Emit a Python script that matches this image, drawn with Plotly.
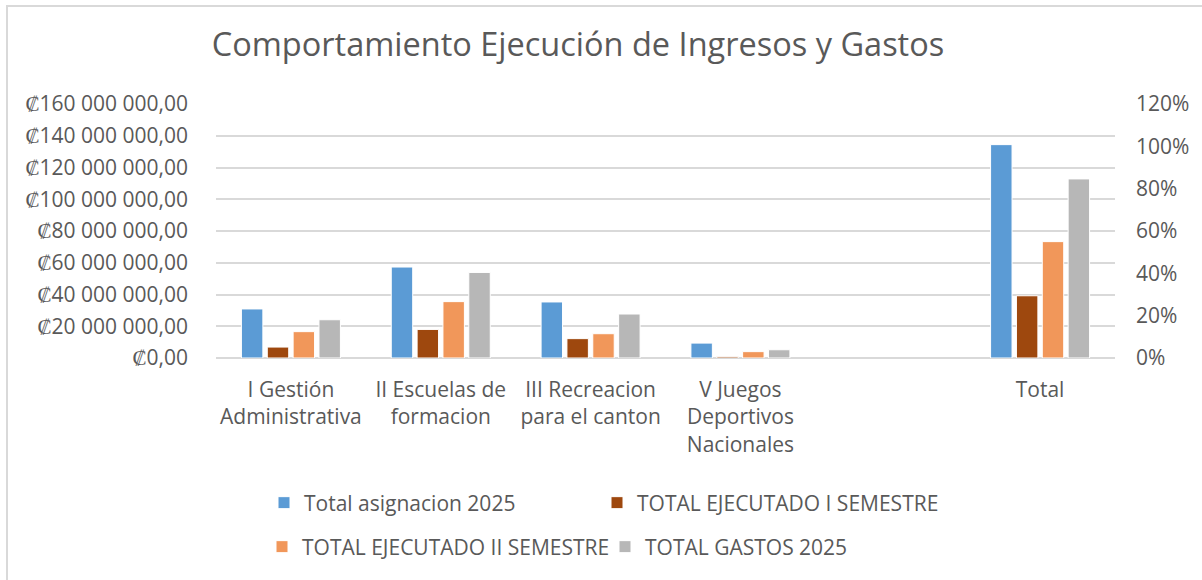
import plotly.graph_objects as go

categories = ["I Gestión<br>Administrativa", "II Escuelas de<br>formacion",
              "III Recreacion<br>para el canton", "V Juegos<br>Deportivos<br>Nacionales",
              " ", "Total"]
asignacion_2025 = [30.9e6, 57.3e6, 35.3e6, 9.4e6, None, 134.4e6]
ejecutado_i_sem = [6.9e6, 18.0e6, 12.2e6, 0.8e6, None, 39.2e6]
ejecutado_ii_sem = [16.6e6, 35.5e6, 15.3e6, 4.0e6, None, 73.3e6]
gastos_2025 = [24.1e6, 53.9e6, 27.7e6, 5.2e6, None, 112.8e6]

series_names = ["Total asignacion 2025", "TOTAL EJECUTADO I SEMESTRE",
                "TOTAL EJECUTADO II SEMESTRE", "TOTAL GASTOS 2025"]
colors = ["#5B9BD5", "#9E480E", "#F1975A", "#B7B7B7"]

y_tickvals = [0, 20e6, 40e6, 60e6, 80e6, 100e6, 120e6, 140e6, 160e6]
y_ticktext = ["₡0,00", "₡20 000 000,00", "₡40 000 000,00", "₡60 000 000,00",
              "₡80 000 000,00", "₡100 000 000,00", "₡120 000 000,00",
              "₡140 000 000,00", "₡160 000 000,00"]
y2_tickvals = [0, 0.2, 0.4, 0.6, 0.8, 1.0, 1.2]
y2_ticktext = ["0%", "20%", "40%", "60%", "80%", "100%", "120%"]

title_text = "Comportamiento Ejecución de Ingresos y Gastos"

W, H = 1202, 580
L, R, T, B = 216, 87, 104, 222
PW, PH = W - L - R, H - T - B

def px_x(p):
    return (p - L) / PW

def px_y(p):
    return (H - B - p) / PH

FONT = "Open Sans"
TXT = "#595959"
FS = 21

fig = go.Figure()
values = [asignacion_2025, ejecutado_i_sem, ejecutado_ii_sem, gastos_2025]
legend_ids = ["legend", "legend2", "legend3", "legend4"]
for name, vals, col, lg in zip(series_names, values, colors, legend_ids):
    fig.add_trace(go.Bar(x=categories, y=vals, name=name, marker_color=col,
                         marker_line=dict(color="white", width=1), legend=lg))

fig.add_trace(go.Scatter(x=categories, y=[None] * len(categories), yaxis="y2",
                         showlegend=False, hoverinfo="skip", mode="lines"))

legend_pos = [(264, 503), (597, 503), (262, 547), (605, 547)]
legend_layouts = {}
for lg, (lx, ly) in zip(legend_ids, legend_pos):
    legend_layouts[lg] = dict(orientation="h", x=px_x(lx), xanchor="left",
                              y=px_y(ly), yanchor="middle",
                              font=dict(size=FS, color=TXT),
                              bgcolor="rgba(0,0,0,0)")

fig.update_layout(
    width=W, height=H,
    margin=dict(l=L, r=R, t=T, b=B, autoexpand=False),
    paper_bgcolor="white", plot_bgcolor="white",
    font=dict(family=FONT, size=FS, color=TXT),
    title=dict(text=title_text, x=578 / W, xanchor="center", y=1 - 45 / H,
               yanchor="middle", font=dict(family=FONT, size=32.5, color=TXT)),
    barmode="group", bargap=0.31, bargroupgap=0.17,
    xaxis=dict(type="category", showgrid=False, showline=False, ticks="",
               tickfont=dict(size=FS, color=TXT), ticklabelstandoff=17,
               fixedrange=True, tickangle=0),
    yaxis=dict(range=[0, 160e6], tickvals=y_tickvals, ticktext=y_ticktext,
               showgrid=True, gridcolor="#D9D9D9", gridwidth=1.5,
               zeroline=True, zerolinecolor="#D9D9D9", zerolinewidth=1.5,
               showline=False, ticks="", ticklabelstandoff=27,
               tickfont=dict(size=FS, color=TXT)),
    yaxis2=dict(range=[0, 1.2], overlaying="y", side="right",
                tickvals=y2_tickvals, ticktext=y2_ticktext, showgrid=False,
                zeroline=False, showline=False, ticks="", ticklabelstandoff=20,
                tickfont=dict(size=FS, color=TXT)),
    shapes=[dict(type="rect", xref="paper", yref="paper",
                 x0=px_x(7), x1=px_x(W + 20), y0=px_y(H + 20), y1=px_y(6),
                 line=dict(color="#D9D9D9", width=2), layer="below")],
    showlegend=True,
    **legend_layouts,
)

fig.write_html("out.html", config={"displayModeBar": False},
               post_script="document.body.style.margin='0px';")
